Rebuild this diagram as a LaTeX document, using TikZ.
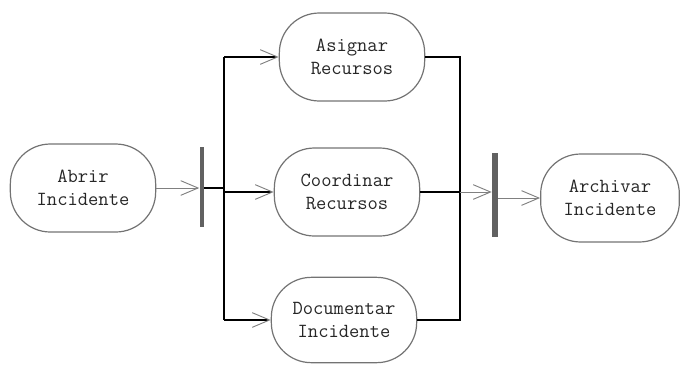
\documentclass[tikz,border=0pt]{standalone}
\usetikzlibrary{arrows.meta}
\begin{document}
\begin{tikzpicture}[x=0.75pt,y=-0.75pt,
  act/.style={draw=black!55, line width=0.9pt, rounded corners=30pt,
    minimum width=109pt, minimum height=66pt, align=center, inner sep=0pt,
    font=\ttfamily\fontsize{15}{17.5}\selectfont, text=black!85},
  bar/.style={fill=black!62, draw=none, inner sep=0pt},
  flow/.style={line width=0.9pt, draw=black},
  tip/.style={-{Straight Barb[length=13pt,width=11pt,line width=0.7pt,color=black!50]}},
  gflow/.style={line width=0.7pt, draw=black!50, tip}
]
\useasboundingbox (0,0) rectangle (681,365);

% activities
\node[act] (abrir) at (83,188)  {Abrir\\Incidente};
\node[act] (asig)  at (352,57)  {Asignar\\Recursos};
\node[act] (coord) at (347,192) {Coordinar\\Recursos};
\node[act, minimum height=64pt] (doc) at (344,320) {Documentar\\Incidente};
\node[act, minimum width=104pt] (arch) at (610,198) {Archivar\\Incidente};

% fork and join bars
\node[bar, minimum width=3pt, minimum height=60pt] (fork) at (201.5,187) {};
\node[bar, minimum width=4.5pt, minimum height=63pt] (join) at (495,195) {};

% x positions of the vertical rails
\coordinate (lx) at (224,0);
\coordinate (rx) at (460,0);

% into the fork
\draw[gflow] (abrir.east) -- (abrir.east -| fork.west);

% fork rail and branches
\draw[flow] (fork.east |- abrir.east) -- (abrir.east -| lx);
\draw[flow] (asig.west -| lx) -- (doc.west -| lx);
\draw[flow, tip] (asig.west -| lx) -- (asig.west);
\draw[flow, tip] (coord.west -| lx) -- (coord.west);
\draw[flow, tip] (doc.west -| lx) -- (doc.west);

% join rail
\draw[flow] (asig.east) -- (asig.east -| rx) -- (doc.east -| rx) -- (doc.east);
\draw[flow] (coord.east) -- (coord.east -| rx);
\draw[gflow] (coord.east -| rx) -- (coord.east -| join.west);

% out of the join
\draw[gflow] (arch.west -| join.east) -- (arch.west);
\end{tikzpicture}
\end{document}
